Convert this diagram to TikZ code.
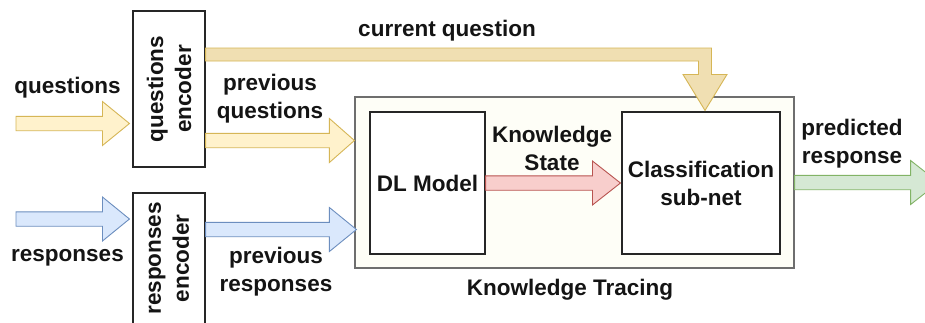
\documentclass[tikz,border=0pt]{standalone}
\usepackage{fontspec}
\setmainfont{Liberation Sans}
\usetikzlibrary{calc}
\definecolor{yfill}{HTML}{FFF2CC}
\definecolor{ystroke}{HTML}{D6B656}
\definecolor{cqfill}{HTML}{F0DFB2}
\definecolor{bfill}{HTML}{DAE8FC}
\definecolor{bstroke}{HTML}{6C8EBF}
\definecolor{rfill}{HTML}{F8CECC}
\definecolor{rstroke}{HTML}{B85450}
\definecolor{gfill}{HTML}{D5E8D4}
\definecolor{gstroke}{HTML}{82B366}
\definecolor{ktfill}{HTML}{FEFEF7}
\definecolor{ktstroke}{HTML}{6E6E6E}
\newcommand{\blockarrow}[4]{%
  \draw[#1] ($(#2)+(0,-7.2)$) -- ($(#3)+(-#4,-7.2)$) -- ($(#3)+(-#4,-22)$) -- (#3)
    -- ($(#3)+(-#4,22)$) -- ($(#3)+(-#4,7.2)$) -- ($(#2)+(0,7.2)$) -- cycle;}
\begin{document}
\begin{tikzpicture}[x=1pt,y=-1pt,
  lbl/.style={font=\bfseries\fontsize{22.5}{28}\selectfont, align=center, inner sep=0pt, text=black!92},
  box/.style={draw=black!85, fill=white, line width=1.1pt, inner sep=0pt},
  ktbox/.style={draw=ktstroke, fill=ktfill, line width=1.2pt, inner sep=0pt},
  arr/.style={line width=0.9pt, line join=miter},
  yarr/.style={arr, draw=ystroke, fill=yfill},
  cqarr/.style={arr, draw=ystroke, fill=cqfill},
  barr/.style={arr, draw=bstroke, fill=bfill},
  rarr/.style={arr, draw=rstroke, fill=rfill},
  garr/.style={arr, draw=gstroke, fill=gfill}]
\useasboundingbox (0,0) rectangle (925,322);
\clip (0,0) rectangle (925,322);
\fill[white] (0,0) rectangle (925,322);

% boxes
\node[ktbox, minimum width=439pt, minimum height=171pt] (kt) at (574.5,182.5) {};
\node[box, minimum width=115pt, minimum height=142pt, lbl] (dl) at (427.5,183) {DL Model};
\node[box, minimum width=158pt, minimum height=142pt, lbl] (cls) at (701,183) {Classification\\sub-net};
\node[box, minimum width=72pt, minimum height=156pt] (qenc) at (169,89) {};
\node[lbl, rotate=90] (qencl) at (qenc.center) {questions\\encoder};
\node[box, minimum width=72pt, minimum height=130.5pt] (renc) at (169,258.25) {};
\node[lbl, rotate=90] (rencl) at (renc.center) {responses\\encoder};

% coordinates
\coordinate (qsrc) at (16,123.5);
\coordinate (rsrc) at (16,219);
\coordinate (qtip) at ($(qenc.west |- qsrc)+(-3,0)$);
\coordinate (rtip) at ($(renc.west |- rsrc)+(-3,0)$);
\coordinate (pqsrc) at (qenc.east |- 0,140.5);
\coordinate (pqtip) at (kt.west |- pqsrc);
\coordinate (prsrc) at (renc.east |- 0,229.5);
\coordinate (prtip) at ($(kt.west |- prsrc)+(2,0)$);
\coordinate (kstip) at ($(cls.west)+(-1,0)$);
\coordinate (predend) at ($(kt.east)+(144,0)$);
\coordinate (cqsrc) at (qenc.east |- 0,54.5);
\coordinate (cqtip) at ($(cls.north)+(4,-1)$);

% arrows
\blockarrow{yarr}{qsrc}{qtip}{27}
\blockarrow{barr}{rsrc}{rtip}{27}
\blockarrow{yarr}{pqsrc}{pqtip}{25}
\blockarrow{barr}{prsrc}{prtip}{27}
\blockarrow{rarr}{dl.east}{kstip}{28}
\blockarrow{garr}{kt.east}{predend}{28}
\draw[cqarr] ($(cqsrc)+(0,-6.5)$) -- ($(cqtip |- cqsrc)+(6.5,-6.5)$) -- ($(cqtip)+(6.5,-36)$)
  -- ($(cqtip)+(22,-36)$) -- (cqtip) -- ($(cqtip)+(-22,-36)$) -- ($(cqtip)+(-6.5,-36)$)
  -- ($(cqtip |- cqsrc)+(-6.5,6.5)$) -- ($(cqsrc)+(0,6.5)$) -- cycle;

% labels
\node[lbl] (tq) at (67.5,87.5) {questions};
\node[lbl] (tr) at (67.5,257.5) {responses};
\node[lbl] (tpq) at (270,98.5) {previous\\questions};
\node[lbl] (tpr) at (276,271.5) {previous\\responses};
\node[lbl] (tcq) at (447,30.5) {current question};
\node[lbl] (tks) at (552,148) {Knowledge\\State};
\node[lbl] (tpred) at (852,143.5) {predicted\\response};
\node[lbl] (tkt) at (570,289.5) {Knowledge Tracing};
\end{tikzpicture}
\end{document}
